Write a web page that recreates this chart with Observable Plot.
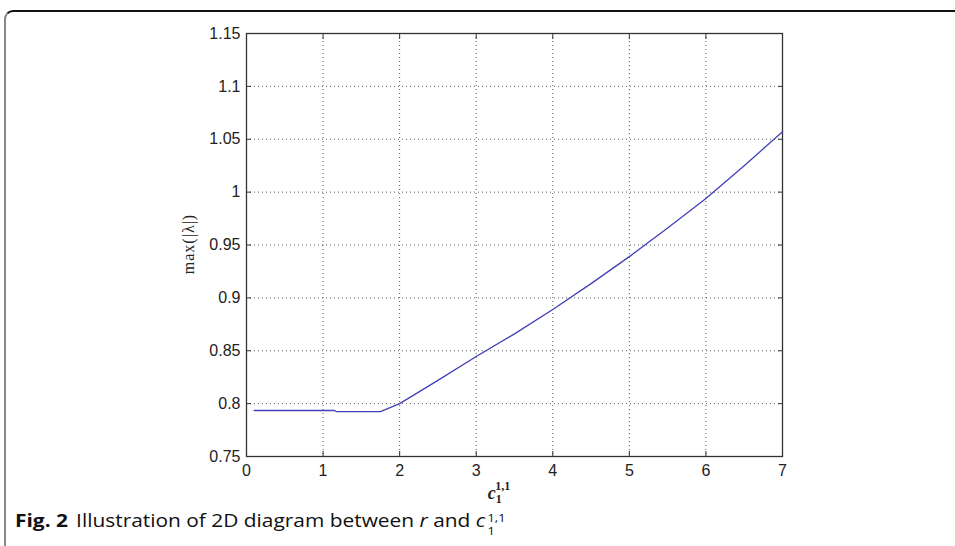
<!DOCTYPE html>
<html>
<head>
<meta charset="utf-8">
<script src="https://cdn.jsdelivr.net/npm/d3@7"></script>
<script src="https://cdn.jsdelivr.net/npm/@observablehq/plot@0.6"></script>
<style>
  html, body { margin: 0; padding: 0; background: #fff; }
  #page { position: relative; width: 955px; height: 546px; overflow: hidden; }
  #frame { position: absolute; left: 4px; top: 10px; width: 960px; height: 560px;
           border-top: 2px solid #111; border-left: 2px solid #888; border-top-left-radius: 9px; box-sizing: border-box; }
  #chart { position: absolute; left: 0; top: 0; }
  #caption { position: absolute; left: 15px; top: 506px; font-family: "Open Sans", sans-serif; font-size: 18px; line-height: 28px; color: #111; white-space: nowrap; transform: scaleX(1.16); transform-origin: 0 0; }
  #caption b { font-weight: 700; margin-right: 7px; }
  .ss { display: inline-block; vertical-align: -8px; line-height: 13px; font-size: 11px; text-align: left; margin-left: 2px; }
  .ss span { display: block; }
</style>
</head>
<body>
<div id="page">
  <div id="frame"></div>
  <div id="chart"></div>
  <div id="caption"><b>Fig. 2</b>Illustration of 2D diagram between <i>r</i> and <i>c</i><span class="ss"><span>1,1</span><span>1</span></span></div>
</div>
<script>
// Data
const cValues = [0.1, 0.8, 1.15, 1.17, 1.5, 1.75, 2.0, 2.5, 3.0, 3.5, 4.0, 4.5, 5.0, 5.5, 6.0, 6.5, 7.0];
const lambdaMax = [0.7935, 0.7935, 0.7935, 0.7925, 0.7925, 0.7925, 0.800, 0.822, 0.8445, 0.866, 0.889, 0.9135, 0.939, 0.966, 0.994, 1.025, 1.057];

const xTicks = [0, 1, 2, 3, 4, 5, 6, 7];
const xTickLabels = ["0", "1", "2", "3", "4", "5", "6", "7"];
const yTicks = [0.75, 0.8, 0.85, 0.9, 0.95, 1, 1.05, 1.1, 1.15];
const yTickLabels = ["0.75", "0.8", "0.85", "0.9", "0.95", "1", "1.05", "1.1", "1.15"];

const data = cValues.map((c, i) => ({c, v: lambdaMax[i]}));
const fmtX = d => xTickLabels[xTicks.indexOf(d)];
const fmtY = d => yTickLabels[yTicks.findIndex(t => Math.abs(t - d) < 1e-9)];
const blank = () => "";

const W = 955, H = 510;
const plot = Plot.plot({
  width: W, height: H,
  marginLeft: 246, marginRight: 173, marginTop: 33, marginBottom: 54,
  style: {fontFamily: "'Liberation Sans', Arial, sans-serif", fontSize: "16px", color: "#222", background: "transparent", overflow: "visible"},
  x: {domain: [0, 7]},
  y: {domain: [0.75, 1.15]},
  marks: [
    Plot.gridX(xTicks.slice(1, -1), {stroke: "#333", strokeOpacity: 0.8, strokeDasharray: "1,3"}),
    Plot.gridY(yTicks.slice(1, -1), {stroke: "#333", strokeOpacity: 0.8, strokeDasharray: "1,3"}),
    Plot.axisX(xTicks, {anchor: "bottom", tickSize: -5, tickFormat: blank, label: null, stroke: "#333"}),
    Plot.axisX(xTicks, {anchor: "top", tickSize: -5, tickFormat: blank, label: null, stroke: "#333"}),
    Plot.axisY(yTicks, {anchor: "left", tickSize: -5, tickFormat: blank, label: null, stroke: "#333"}),
    Plot.axisY(yTicks, {anchor: "right", tickSize: -5, tickFormat: blank, label: null, stroke: "#333"}),
    Plot.axisX(xTicks, {anchor: "bottom", tickSize: 0, tickPadding: 8, tickFormat: fmtX, label: null, fill: "#222"}),
    Plot.axisY(yTicks, {anchor: "left", tickSize: 0, tickPadding: 6, tickFormat: fmtY, label: null, fill: "#222"}),
    Plot.frame({stroke: "#333", strokeWidth: 1.3}),
    Plot.line(data, {x: "c", y: "v", stroke: "#4040b8", strokeWidth: 1.3})
  ]
});
document.getElementById("chart").appendChild(plot);

const svg = d3.select(plot);
// y-axis label
svg.append("text")
  .attr("transform", "translate(194,244) rotate(-90)")
  .attr("text-anchor", "middle")
  .attr("font-family", "'Liberation Serif', 'DejaVu Serif', serif")
  .attr("font-size", 16)
  .attr("letter-spacing", 1)
  .attr("fill", "#222")
  .text("max(|λ|)");
// x-axis label c_1^{1,1}
const xl = svg.append("text")
  .attr("x", 499).attr("y", 499)
  .attr("font-family", "'Liberation Serif', 'DejaVu Serif', serif")
  .attr("font-size", 18)
  .attr("fill", "#222");
xl.append("tspan").attr("font-weight", "bold").attr("font-style", "italic").text("c");
xl.append("tspan").attr("font-size", 12).attr("font-weight", "bold").attr("dy", 4).text("1");
xl.append("tspan").attr("font-size", 12).attr("font-weight", "bold").attr("dx", -6).attr("dy", -13).text("1,1");
</script>
</body>
</html>
